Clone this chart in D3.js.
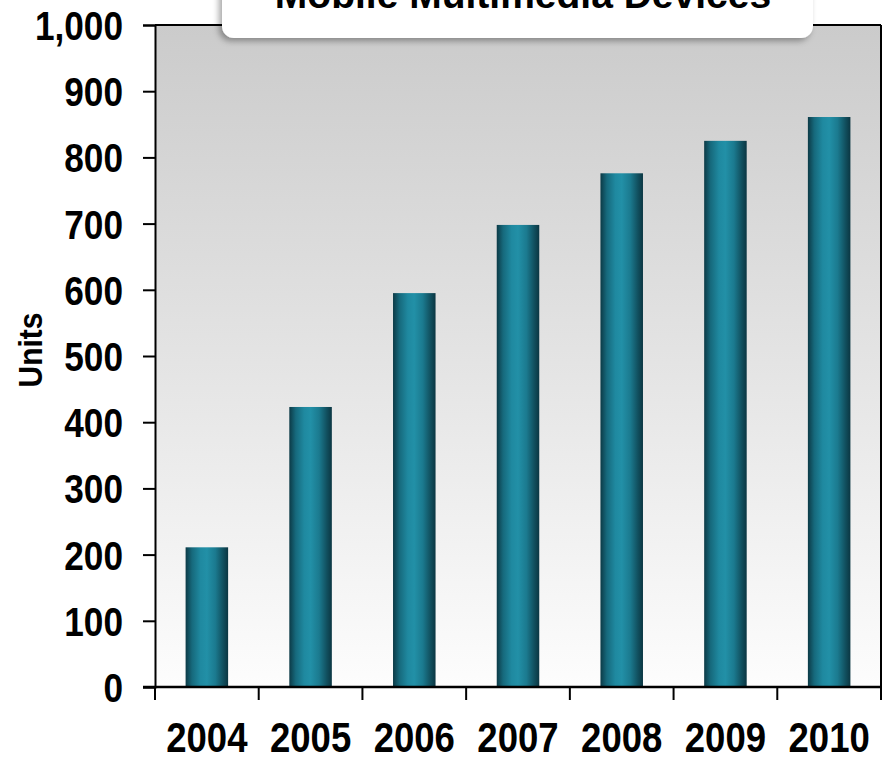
<!DOCTYPE html>
<html><head><meta charset="utf-8">
<script src="https://cdn.jsdelivr.net/npm/d3@7"></script>
<style>html,body{margin:0;padding:0;background:#fff;overflow:hidden}</style>
</head><body>
<script>
const years = ["2004","2005","2006","2007","2008","2009","2010"];
const units = [211, 423, 595, 698, 776, 825, 861];
const yTicks = [0,100,200,300,400,500,600,700,800,900,1000];
const title = "Mobile Multimedia Devices";
const yLabel = "Units";

const W = 886, H = 763;
const m = {left:155, right:5, top:25, bottom:76};
const svg = d3.select("body").append("svg").attr("width", W).attr("height", H);
const defs = svg.append("defs");

const bg = defs.append("linearGradient").attr("id","bg").attr("x1",0).attr("y1",0).attr("x2",0).attr("y2",1);
bg.append("stop").attr("offset","0%").attr("stop-color","#cbcbcb");
bg.append("stop").attr("offset","55%").attr("stop-color","#e6e6e6");
bg.append("stop").attr("offset","100%").attr("stop-color","#fdfdfd");

const bar = defs.append("linearGradient").attr("id","bar").attr("x1",0).attr("y1",0).attr("x2",1).attr("y2",0);
[["0%","#0c3a46"],["15%","#16697c"],["35%","#1f89a0"],["50%","#2290a7"],["70%","#1b7a8f"],["88%","#11505f"],["100%","#0b3642"]]
  .forEach(([o,c]) => bar.append("stop").attr("offset",o).attr("stop-color",c));

const sh = defs.append("filter").attr("id","shadow").attr("x","-10%").attr("y","-50%").attr("width","120%").attr("height","200%");
sh.append("feDropShadow").attr("dx",-3).attr("dy",3).attr("stdDeviation",3).attr("flood-color","#000").attr("flood-opacity",0.35);

const x = d3.scaleBand().domain(years).range([m.left, W - m.right]).paddingInner(0.59).paddingOuter(0.295);
const xb = d3.scaleBand().domain(years).range([m.left, W - m.right]);
const y = d3.scaleLinear().domain([0,1000]).range([H - m.bottom, m.top]);

// plot background
svg.append("rect").attr("x", m.left).attr("y", m.top).attr("width", W - m.right - m.left)
  .attr("height", y(0) - m.top).attr("fill","url(#bg)");

// bars
svg.selectAll("rect.bar").data(years).join("rect").attr("class","bar")
  .attr("x", d => x(d)).attr("width", x.bandwidth())
  .attr("y", (d,i) => y(units[i])).attr("height", (d,i) => y(0) - y(units[i]))
  .attr("fill","url(#bar)");

// frame: top and right
svg.append("line").attr("x1", m.left).attr("x2", W - m.right).attr("y1", m.top).attr("y2", m.top)
  .attr("stroke","#000").attr("stroke-width",2);
svg.append("line").attr("x1", W - m.right).attr("x2", W - m.right).attr("y1", m.top).attr("y2", y(0))
  .attr("stroke","#000").attr("stroke-width",2);

const font = "'Liberation Sans',Arial,sans-serif";
const sy = 0.88, sxx = 0.87;

// y axis
const ya = svg.append("g").attr("transform", `translate(${m.left},0)`)
  .call(d3.axisLeft(y).tickValues(yTicks).tickSize(12).tickPadding(18).tickFormat(d3.format(",")));
ya.select(".domain").attr("stroke","#000").attr("stroke-width",2);
ya.selectAll(".tick line").attr("stroke","#000").attr("stroke-width",2);
ya.selectAll(".tick text").attr("font-family", font).attr("font-weight","bold").attr("font-size",40)
  .attr("fill","#000").attr("dy","0.36em").attr("x", -32 / sy).attr("transform", `scale(${sy},1)`);

// x axis
const xa = svg.append("g").attr("transform", `translate(0,${y(0)})`)
  .call(d3.axisBottom(xb).tickSize(0).tickPadding(35));
xa.select(".domain").remove();
xa.selectAll(".tick text").attr("font-family", font).attr("font-weight","bold").attr("font-size",42)
  .attr("fill","#000").attr("transform", `scale(${sxx},1)`);
svg.append("line").attr("x1", m.left - 12).attr("x2", W - m.right).attr("y1", y(0)).attr("y2", y(0))
  .attr("stroke","#000").attr("stroke-width",2.5);
svg.selectAll("line.xt").data(years).join("line").attr("class","xt")
  .attr("x1", d => xb(d) + xb.bandwidth()).attr("x2", d => xb(d) + xb.bandwidth())
  .attr("y1", y(0)).attr("y2", y(0) + 13).attr("stroke","#000").attr("stroke-width",2);
svg.append("line").attr("x1", m.left).attr("x2", m.left).attr("y1", y(0)).attr("y2", y(0) + 13)
  .attr("stroke","#000").attr("stroke-width",2);

// y label
svg.append("text").attr("transform", `translate(42,350) rotate(-90) scale(0.88,1)`).attr("text-anchor","middle")
  .attr("font-family", font).attr("font-weight","bold").attr("font-size",34).attr("fill","#000").text(yLabel);

// title box
svg.append("rect").attr("x",222).attr("y",-30).attr("width",591).attr("height",68).attr("rx",12)
  .attr("fill","#fff").attr("filter","url(#shadow)");
svg.append("text").attr("x",523).attr("y",8).attr("text-anchor","middle")
  .attr("font-family", font).attr("font-weight","bold").attr("font-size",39)
  .attr("fill","#000").text(title);
</script>
</body></html>
